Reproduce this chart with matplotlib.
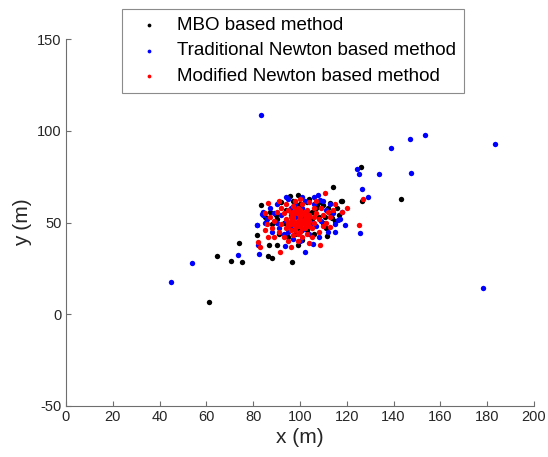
import matplotlib
matplotlib.use("Agg")
import matplotlib.pyplot as plt
import numpy as np

plt.rcParams['font.family'] = ['Liberation Sans', 'DejaVu Sans']
plt.rcParams['axes.unicode_minus'] = False

# ---------------- data ----------------
mbo_x = [93, 96, 99, 102, 105, 108, 100, 97, 94, 90, 88, 91, 95, 103, 106, 110, 112, 109,
         104, 99, 92, 87, 85, 101, 98, 107, 113, 111, 116, 118, 96, 105,
         61.2, 64.5, 70.5, 73.9, 75.3, 81.6, 86.5, 88.2, 96.7, 83.2, 114.2, 126.2, 126.5,
         143.2, 117.7, 116.7, 113.5, 95.7, 91.2, 86.8, 90, 99.3, 111.4, 85.5, 89.7, 102.8,
         107.1, 110, 100.7, 98.6, 104.3, 110.7, 112.8, 115]
mbo_y = [50, 54, 47, 50, 56, 53, 60, 62, 57, 52, 49, 44, 42, 46, 44, 50, 58, 61,
         63, 65, 61, 56, 53, 53, 44, 58, 55, 47, 58, 62, 48, 52,
         6.7, 31.8, 28.9, 38.9, 28.7, 43.1, 31.6, 30.5, 28.7, 59.6, 69.4, 80.3, 62.0,
         62.7, 61.8, 54, 52.3, 64.7, 61.4, 37.6, 37.6, 38, 42.7, 50.5, 54.1, 61.4,
         59.6, 59.6, 40.5, 59.1, 55.1, 53.2, 60.5, 51]

trad_x = [94, 97, 100, 103, 99, 96, 92, 90, 88, 86, 105, 107, 109, 111, 113, 106, 102, 98,
          95, 90, 87, 101, 104, 97, 93, 100, 108, 112, 115, 117, 103, 98, 95, 91, 110, 106,
          89, 84, 85, 99, 101, 114,
          44.7, 53.8, 73.6, 82.3, 81.8, 83.9, 94, 100.7, 107.8, 108.5, 119.2, 125.6, 124.4,
          125.2, 133.9, 126.6, 129.2, 102.1, 105.7, 93.6, 114.9, 117.8, 116.4, 82.2, 83.3,
          138.9, 147.1, 153.3, 183.3, 147.6, 178.1, 81.5, 84.3]
trad_y = [51, 47, 52, 55, 56, 58, 54, 50, 45, 52, 50, 48, 51, 57, 60, 60, 62, 60,
          63, 60, 58, 46, 44, 41, 44, 40, 42, 45, 49, 52, 52, 53, 45, 47, 62, 64,
          55, 56, 50, 49, 58, 55,
          17.4, 27.8, 32.5, 32.9, 48.9, 54.5, 64.1, 64.1, 65, 62.3, 48.9, 44.5, 79,
          76.3, 76.3, 68.2, 63.8, 34.1, 38.2, 37.2, 45, 55.9, 51.4, 37.8, 108.7,
          90.8, 95.4, 97.8, 92.7, 77, 14.5, 48.7, 54.1]

mod_x = [95, 97, 99, 101, 103, 98, 100, 102, 96, 94, 92, 104, 106, 105, 100, 97, 103, 99,
         101, 95, 93, 107, 108, 110, 91, 89, 88, 90, 94, 98, 104, 106, 109, 112, 111, 113,
         100, 98, 102, 96, 99, 105, 93, 108, 110, 87, 92, 97, 103, 101, 95, 99, 104, 89,
         86, 114, 115, 107, 100, 91, 85, 94, 96, 102, 104, 98, 100, 106, 101, 97,
         96, 98, 100, 102, 104, 97, 99, 101, 103, 95, 96, 98, 100, 102, 104, 99, 101, 97,
         86.5, 82.2, 82.9, 91.5, 96, 108.5, 110.7, 118.1, 125.2, 127.1, 85, 86.5, 112.8, 120]
mod_y = [50, 52, 48, 51, 49, 55, 54, 56, 46, 52, 49, 53, 50, 47, 45, 43, 44, 58,
         60, 57, 55, 55, 52, 54, 45, 51, 47, 56, 60, 62, 61, 58, 58, 56, 50, 53,
         50, 50, 47, 53, 44, 42, 42, 45, 48, 53, 58, 59, 57, 42, 40, 40, 39, 42,
         49, 57, 60, 62, 63, 62, 55, 47, 49, 52, 51, 46, 57, 53, 55, 56,
         51, 48, 53, 49, 54, 50, 55, 47, 52, 48, 55, 57, 49, 54, 48, 51, 50, 53,
         60.5, 39.3, 36.9, 34.1, 36.9, 37.8, 66, 55.9, 48.7, 62.9, 46, 42.3, 47.8, 58]

labels = ['MBO based method', 'Traditional Newton based method', 'Modified Newton based method']
x_ticks = [0, 20, 40, 60, 80, 100, 120, 140, 160, 180, 200]
y_ticks = [-50, 0, 50, 100, 150]

# ---------------- figure ----------------
fig = plt.figure(figsize=(5.48, 4.57), dpi=100)
ax = fig.add_axes([0.1204, 0.1116, 0.8541, 0.8026])

ms = 15
ax.scatter(mbo_x, mbo_y, s=ms, color='black', linewidths=0, label=labels[0])
ax.scatter(trad_x, trad_y, s=ms, color='blue', linewidths=0, label=labels[1])
ax.scatter(mod_x, mod_y, s=ms, color='red', linewidths=0, label=labels[2])

ax.set_xlim(0, 200)
ax.set_ylim(-50, 150)
ax.set_xticks(x_ticks)
ax.set_yticks(y_ticks)

tc = '#262626'
for side in ['top', 'right']:
    ax.spines[side].set_visible(False)
for side in ['left', 'bottom']:
    ax.spines[side].set_color('#6e6e6e')
    ax.spines[side].set_linewidth(0.8)
ax.tick_params(direction='in', length=3.5, width=0.8, color='#6e6e6e',
               labelsize=10.5, labelcolor=tc, pad=3)

ax.set_xlabel('x (m)', fontsize=15, color=tc, labelpad=3)
ax.set_ylabel('y (m)', fontsize=15, color=tc, labelpad=4)

leg = fig.legend(loc='upper center', bbox_to_anchor=(0.5345, 0.981),
                 fontsize=13.5, frameon=True, fancybox=False, markerscale=0.7,
                 handletextpad=0.5, borderpad=0.42, labelspacing=0.46,
                 handlelength=2.0, borderaxespad=0)
leg.get_frame().set_edgecolor('#6e6e6e')
leg.get_frame().set_linewidth(0.8)
for t in leg.get_texts():
    t.set_color('black')

fig.savefig('out.png', dpi=100)
